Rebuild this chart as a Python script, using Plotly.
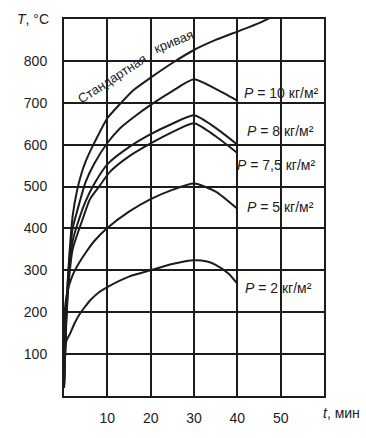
import plotly.graph_objects as go

# --- data ---
t_std = [0, 0.5, 1, 2, 3, 4, 5, 6.5, 8, 10, 13, 16, 20, 25, 30, 35, 40, 45, 48]
T_std = [20, 200, 300, 430, 490, 530, 560, 594, 625, 663, 698, 730, 760, 795, 826, 850, 870, 890, 905]

t_p10 = [0, 0.5, 1, 2, 3, 5, 7, 10, 13, 16, 20, 25, 30, 35, 40]
T_p10 = [20, 190, 290, 400, 440, 511, 555, 604, 640, 665, 695, 728, 756, 733, 705]

t_p8 = [0, 0.5, 1, 2, 3.7, 5, 6.8, 10, 15, 20, 25, 30, 35, 40]
T_p8 = [20, 180, 270, 370, 429, 465, 503, 553, 594, 625, 650, 670, 640, 600]

t_p75 = [0, 0.5, 1, 2, 4.4, 6, 8.3, 10.6, 15, 20, 25, 30, 35, 40]
T_p75 = [20, 170, 260, 350, 425, 470, 503, 535, 572, 603, 630, 651, 620, 580]

t_p5 = [0, 0.1, 0.6, 1.2, 2.1, 3.5, 5.2, 7, 10, 15, 20, 25, 30, 35, 40]
T_p5 = [20, 190, 240, 265, 291, 318, 345, 370, 401, 440, 470, 492, 507, 488, 447]

t_p2 = [0, 0.05, 0.2, 0.7, 1.4, 2.5, 3.7, 5, 6, 8, 10, 15, 20, 25, 30, 33, 35, 38, 40]
T_p2 = [20, 80, 118, 135, 149, 175, 197, 215, 228, 247, 260, 285, 300, 315, 324, 321, 313, 292, 268]

x_ticks = [10, 20, 30, 40, 50]
y_ticks = [100, 200, 300, 400, 500, 600, 700, 800]

labels = ["P = 10 кг/м²", "P = 8 кг/м²", "P = 7,5 кг/м²", "P = 5 кг/м²", "P = 2 кг/м²"]

INK = "#1c1c1c"
FONT = "Liberation Sans"

fig = go.Figure()
for tx, ty in [(t_std, T_std), (t_p10, T_p10), (t_p8, T_p8), (t_p75, T_p75), (t_p5, T_p5), (t_p2, T_p2)]:
    fig.add_trace(go.Scatter(x=tx, y=ty, mode="lines",
                             line=dict(color=INK, width=2, shape="spline", smoothing=0.6),
                             hoverinfo="skip", showlegend=False))

# label positions (x in minutes, y in °C)
label_pos = [(41.0, 724), (41.7, 632), (39.4, 552), (41.7, 451), (41.2, 257)]
for txt, (lx, ly) in zip(labels, label_pos):
    fig.add_annotation(x=lx, y=ly, xref="x", yref="y", xanchor="left", yanchor="middle",
                       text="<i>P</i>" + txt[1:], showarrow=False,
                       font=dict(family=FONT, size=14, color=INK))

fig.add_annotation(x=11.2, y=757, xref="x", yref="y", text="Стандартная", textangle=-33,
                   showarrow=False, font=dict(family=FONT, size=13, color=INK))
fig.add_annotation(x=25.3, y=847, xref="x", yref="y", text="кривая", textangle=-22,
                   showarrow=False, font=dict(family=FONT, size=13, color=INK))

fig.add_annotation(x=-0.12, y=1.0, xref="paper", yref="paper", xanchor="center", yanchor="middle",
                   text="<i>T</i>, °C", showarrow=False, font=dict(family=FONT, size=14, color=INK))
fig.add_annotation(x=0.99, y=-0.045, xref="paper", yref="paper", xanchor="left", yanchor="middle",
                   text="<i>t</i>, мин", showarrow=False, font=dict(family=FONT, size=14, color=INK))

fig.update_xaxes(range=[0, 60], tickvals=x_ticks, ticktext=[str(v) for v in x_ticks],
                 showgrid=True, gridcolor=INK, gridwidth=1.8, zeroline=False,
                 showline=True, linecolor=INK, linewidth=2, mirror=True,
                 ticks="", ticklabelstandoff=8,
                 tickfont=dict(family=FONT, size=14, color=INK))
fig.update_yaxes(range=[0, 900], tickvals=y_ticks, ticktext=[str(v) for v in y_ticks],
                 showgrid=True, gridcolor=INK, gridwidth=1.8, zeroline=False,
                 showline=True, linecolor=INK, linewidth=2, mirror=True,
                 ticks="", ticklabelstandoff=12,
                 tickfont=dict(family=FONT, size=14, color=INK))

fig.update_layout(width=366, height=438, margin=dict(l=64, r=42, t=19, b=38),
                  paper_bgcolor="white", plot_bgcolor="white",
                  font=dict(family=FONT, color=INK))

fig.write_html("out.html", include_plotlyjs=True, config={"displayModeBar": False})
